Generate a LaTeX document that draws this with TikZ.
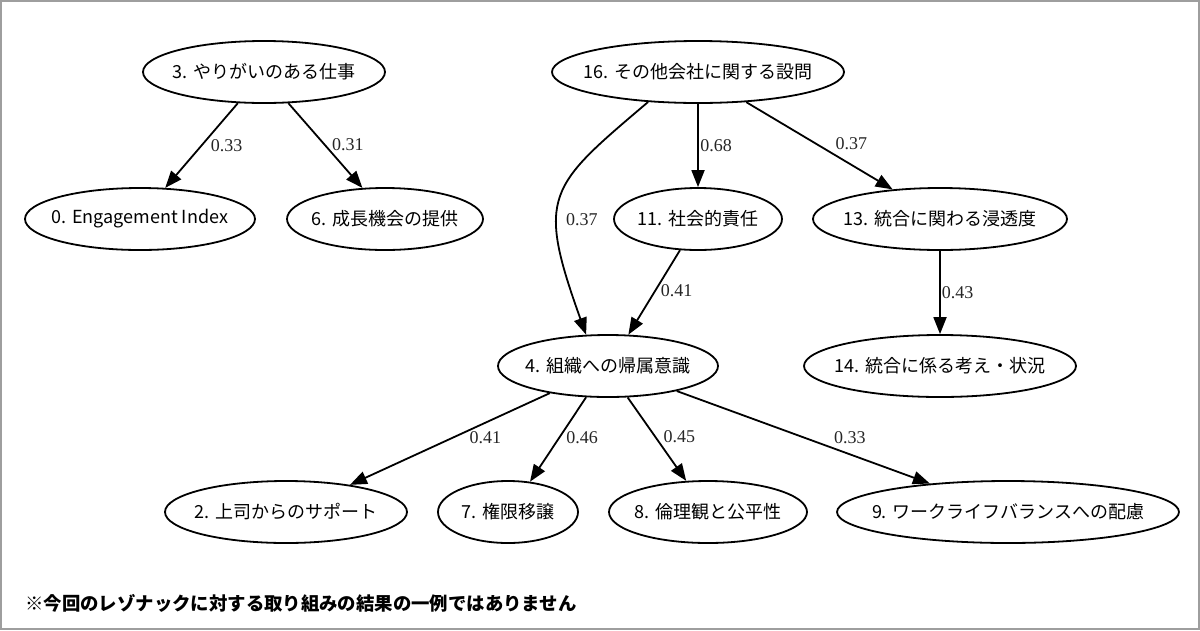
\documentclass[tikz,border=0pt]{standalone}
\usepackage{fontspec}
\newfontfamily\jpfont{Noto Sans CJK JP}
\newfontfamily\labfont{Liberation Serif}
\usetikzlibrary{shapes.geometric,arrows.meta}
\begin{document}
\begin{tikzpicture}[x=1pt,y=-1pt,
  ell/.style={draw, ellipse, line width=1.8pt, inner sep=0pt, minimum height=62pt},
  nodetext/.style={font=\jpfont\fontsize{18}{20}\selectfont, inner sep=0pt},
  con/.style={line width=1.8pt, -{Triangle[length=17pt,width=13pt]}},
  elab/.style={font=\labfont\fontsize{18}{20}\selectfont, text=black!85, inner sep=0pt},
  notetext/.style={font=\jpfont\bfseries\fontsize{18.4}{20}\selectfont, inner sep=0pt, anchor=west}]
\useasboundingbox (0,0) rectangle (1200,630);
\fill[white] (0,0) rectangle (1200,630);
\draw[black!38, line width=2pt] (1,1) rectangle (1199,629);

% nodes
\node[ell, minimum width=242pt, label={[nodetext]center:3. やりがいのある仕事}] (n3) at (264,72) {};
\node[ell, minimum width=292pt, label={[nodetext]center:16. その他会社に関する設問}] (n16) at (698,72) {};
\node[ell, minimum width=230pt, label={[nodetext]center:0. Engagement Index}] (n0) at (140,219) {};
\node[ell, minimum width=196pt, label={[nodetext]center:6. 成長機会の提供}] (n6) at (385,219) {};
\node[ell, minimum width=168pt, label={[nodetext]center:11. 社会的責任}] (n11) at (698,219) {};
\node[ell, minimum width=254pt, label={[nodetext]center:13. 統合に関わる浸透度}] (n13) at (940,219) {};
\node[ell, minimum width=220pt, label={[nodetext]center:4. 組織への帰属意識}] (n4) at (608,366) {};
\node[ell, minimum width=272pt, label={[nodetext]center:14. 統合に係る考え・状況}] (n14) at (940,366) {};
\node[ell, minimum width=242pt, label={[nodetext]center:2. 上司からのサポート}] (n2) at (286,512) {};
\node[ell, minimum width=140pt, label={[nodetext]center:7. 権限移譲}] (n7) at (508,512) {};
\node[ell, minimum width=198pt, label={[nodetext]center:8. 倫理観と公平性}] (n8) at (708,512) {};
\node[ell, minimum width=342pt, label={[nodetext]center:9. ワークライフバランスへの配慮}] (n9) at (1008,512) {};

% connectors
\draw[con] (n3.230.9) -- (n0.51.1) node[elab, pos=0.5, xshift=25pt] {0.33};
\draw[con] (n3.308) -- (n6.126.6) node[elab, pos=0.5, xshift=22.5pt, yshift=1pt] {0.31};
\draw[con] (n16.270) -- (n11.90) node[elab, pos=0.5, xshift=18pt] {0.68};
\draw[con] (n16.328.2) -- (n13.148) node[elab, pos=0.5, xshift=32pt, yshift=2pt] {0.37};
\draw[con] (n16.211.3) .. controls (548,187) and (536,195) .. (n4.125) node[elab, pos=0.5, xshift=21pt, yshift=-22pt] {0.37};
\draw[con] (n11.240.6) -- (n4.57.7) node[elab, pos=0.5, xshift=22.5pt, yshift=1.5pt] {0.41};
\draw[con] (n13.270) -- (n14.90) node[elab, pos=0.5, xshift=17.5pt] {0.43};
\draw[con] (n4.205.8) -- (n2.23.1) node[elab, pos=0.5, xshift=35.5pt, yshift=1.5pt] {0.41};
\draw[con] (n4.235.5) -- (n7.54.6) node[elab, pos=0.5, xshift=24pt, yshift=1.5pt] {0.46};
\draw[con] (n4.302) -- (n8.125) node[elab, pos=0.5, xshift=22.5pt, yshift=2pt] {0.45};
\draw[con] (n4.340.1) -- (n9.160.3) node[elab, pos=0.5, xshift=46.5pt] {0.33};

% footnote
\node[notetext] (note) at (25,603) {※今回のレゾナックに対する取り組みの結果の一例ではありません};
\end{tikzpicture}
\end{document}
